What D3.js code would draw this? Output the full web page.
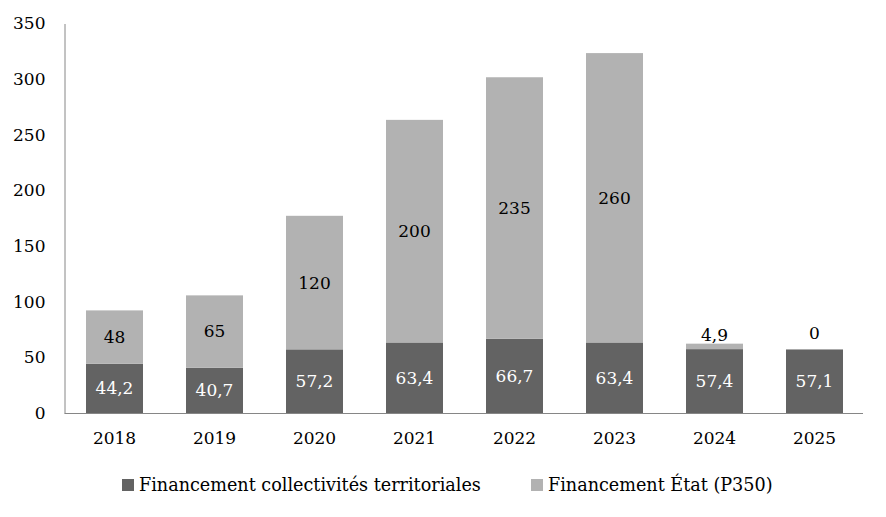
<!DOCTYPE html>
<html><head><meta charset="utf-8">
<script src="https://cdn.jsdelivr.net/npm/d3@7"></script>
<style>
body{margin:0;background:#fff;}
svg text{font-family:"DejaVu Serif",serif !important;}
</style></head>
<body><svg id="c" width="886" height="517"></svg>
<script>
const years = ["2018","2019","2020","2021","2022","2023","2024","2025"];
const collectivites = [44.2,40.7,57.2,63.4,66.7,63.4,57.4,57.1];
const etat = [48,65,120,200,235,260,4.9,0];
const yTicks = [0,50,100,150,200,250,300,350];
const seriesNames = ["Financement collectivités territoriales","Financement État (P350)"];
const colors = ["#636363","#b2b2b2"];

const svg = d3.select("#c");
const fs = 17;
const x = d3.scaleBand().domain(years).range([64.5,864.5]).paddingInner(0.43).paddingOuter(0.215);
const y = d3.scaleLinear().domain([0,350]).range([413,23.5]);
const fmt = v => String(v).replace(".", ",");

const rows = years.map((yr,i)=>({yr, a:collectivites[i], b:etat[i]}));
const g = svg.append("g");
g.selectAll("rect.a").data(rows).join("rect").attr("class","a")
  .attr("x",d=>x(d.yr)).attr("width",x.bandwidth())
  .attr("y",d=>y(d.a)).attr("height",d=>y(0)-y(d.a)).attr("fill",colors[0]);
g.selectAll("rect.b").data(rows.filter(d=>d.b>0)).join("rect").attr("class","b")
  .attr("x",d=>x(d.yr)).attr("width",x.bandwidth())
  .attr("y",d=>y(d.a+d.b)).attr("height",d=>y(d.a)-y(d.a+d.b)).attr("fill",colors[1]);

const yAxis = d3.axisLeft(y).tickValues(yTicks).tickSize(0).tickPadding(19);
const ya = svg.append("g").attr("transform","translate(64.5,0)").call(yAxis);
ya.attr("font-family",null);
ya.select(".domain").attr("stroke","#868686");
ya.selectAll("text").attr("font-size",fs).attr("fill","#000");
const xAxis = d3.axisBottom(x).tickSize(0).tickPadding(19);
const xa = svg.append("g").attr("transform","translate(0,413)").call(xAxis);
xa.attr("font-family",null);
xa.select(".domain").attr("stroke","#868686").attr("d","M64.5,0.5H863");
xa.selectAll("text").attr("font-size",fs).attr("fill","#000");

g.selectAll("text.la").data(rows).join("text").attr("class","la")
  .attr("x",d=>x(d.yr)+x.bandwidth()/2).attr("y",d=>(y(0)+y(d.a))/2)
  .attr("dy","0.35em").attr("text-anchor","middle").attr("font-size",fs).attr("fill","#fff")
  .text(d=>fmt(d.a));
g.selectAll("text.lb").data(rows).join("text").attr("class","lb")
  .attr("x",d=>x(d.yr)+x.bandwidth()/2)
  .attr("y",d=> d.b === 0 ? y(d.a)-16 : d.b < 20 ? y(d.a+d.b)-9 : (y(d.a)+y(d.a+d.b))/2)
  .attr("dy","0.35em").attr("text-anchor","middle").attr("font-size",fs).attr("fill","#000")
  .text(d=>fmt(d.b));

const legX = [122,531];
const lg = svg.append("g");
seriesNames.forEach((n,i)=>{
  lg.append("rect").attr("x",legX[i]).attr("y",479).attr("width",12).attr("height",12).attr("fill",colors[i]);
  lg.append("text").attr("x",legX[i]+17).attr("y",491).attr("font-size",17.6).attr("fill","#000").text(n);
});
</script></body></html>
